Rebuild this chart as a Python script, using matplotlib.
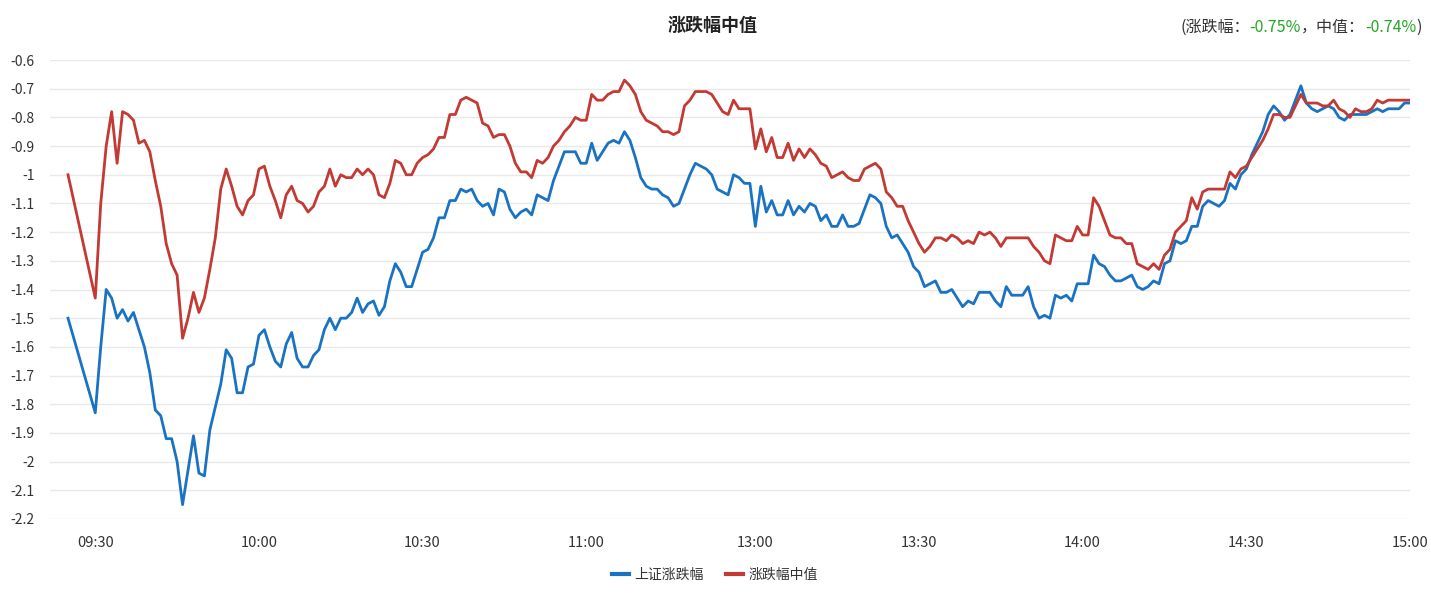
import numpy as np
import matplotlib
matplotlib.use('Agg')
import matplotlib.pyplot as plt
from matplotlib.lines import Line2D

plt.rcParams['font.family'] = ['Noto Sans CJK SC', 'DejaVu Sans']

# minute categories: 09:25-11:30 and 13:00-15:00 (lunch break squeezed out)
times = ['%02d:%02d' % divmod(m, 60) for m in range(9 * 60 + 25, 11 * 60 + 31)] + \
        ['%02d:%02d' % divmod(m, 60) for m in range(13 * 60, 15 * 60 + 1)]
tick_labels = ['09:30', '10:00', '10:30', '11:00', '13:00', '13:30', '14:00', '14:30', '15:00']

nan = np.nan
# 上证涨跌幅
sh_change = [
    -1.50, nan, nan, nan, nan, -1.83, -1.60, -1.40, -1.43, -1.50,
    -1.47, -1.51, -1.48, -1.54, -1.60, -1.69, -1.82, -1.84, -1.92, -1.92,
    -2.00, -2.15, -2.03, -1.91, -2.04, -2.05, -1.89, -1.81, -1.73, -1.61,
    -1.64, -1.76, -1.76, -1.67, -1.66, -1.56, -1.54, -1.60, -1.65, -1.67,
    -1.59, -1.55, -1.64, -1.67, -1.67, -1.63, -1.61, -1.54, -1.50, -1.54,
    -1.50, -1.50, -1.48, -1.43, -1.48, -1.45, -1.44, -1.49, -1.46, -1.37,
    -1.31, -1.34, -1.39, -1.39, -1.33, -1.27, -1.26, -1.22, -1.15, -1.15,
    -1.09, -1.09, -1.05, -1.06, -1.05, -1.09, -1.11, -1.10, -1.14, -1.05,
    -1.06, -1.12, -1.15, -1.13, -1.12, -1.14, -1.07, -1.08, -1.09, -1.02,
    -0.97, -0.92, -0.92, -0.92, -0.96, -0.96, -0.89, -0.95, -0.92, -0.89,
    -0.88, -0.89, -0.85, -0.88, -0.94, -1.01, -1.04, -1.05, -1.05, -1.07,
    -1.08, -1.11, -1.10, -1.05, -1.00, -0.96, -0.97, -0.98, -1.00, -1.05,
    -1.06, -1.07, -1.00, -1.01, -1.03, -1.03, -1.18, -1.04, -1.13, -1.09,
    -1.14, -1.14, -1.09, -1.14, -1.11, -1.13, -1.10, -1.11, -1.16, -1.14,
    -1.18, -1.18, -1.14, -1.18, -1.18, -1.17, -1.12, -1.07, -1.08, -1.10,
    -1.18, -1.22, -1.21, -1.24, -1.27, -1.32, -1.34, -1.39, -1.38, -1.37,
    -1.41, -1.41, -1.40, -1.43, -1.46, -1.44, -1.45, -1.41, -1.41, -1.41,
    -1.44, -1.46, -1.39, -1.42, -1.42, -1.42, -1.39, -1.46, -1.50, -1.49,
    -1.50, -1.42, -1.43, -1.42, -1.44, -1.38, -1.38, -1.38, -1.28, -1.31,
    -1.32, -1.35, -1.37, -1.37, -1.36, -1.35, -1.39, -1.40, -1.39, -1.37,
    -1.38, -1.31, -1.30, -1.23, -1.24, -1.23, -1.18, -1.18, -1.11, -1.09,
    -1.10, -1.11, -1.09, -1.03, -1.05, -1.00, -0.98, -0.93, -0.89, -0.85,
    -0.79, -0.76, -0.78, -0.81, -0.79, -0.74, -0.69, -0.75, -0.77, -0.78,
    -0.77, -0.76, -0.77, -0.80, -0.81, -0.79, -0.79, -0.79, -0.79, -0.78,
    -0.77, -0.78, -0.77, -0.77, -0.77, -0.75, -0.75,
]
# 涨跌幅中值
median_change = [
    -1.00, nan, nan, nan, nan, -1.43, -1.10, -0.90, -0.78, -0.96,
    -0.78, -0.79, -0.81, -0.89, -0.88, -0.92, -1.02, -1.11, -1.24, -1.31,
    -1.35, -1.57, -1.50, -1.41, -1.48, -1.43, -1.33, -1.22, -1.05, -0.98,
    -1.04, -1.11, -1.14, -1.09, -1.07, -0.98, -0.97, -1.04, -1.09, -1.15,
    -1.07, -1.04, -1.09, -1.10, -1.13, -1.11, -1.06, -1.04, -0.98, -1.04,
    -1.00, -1.01, -1.01, -0.98, -1.00, -0.98, -1.00, -1.07, -1.08, -1.03,
    -0.95, -0.96, -1.00, -1.00, -0.96, -0.94, -0.93, -0.91, -0.87, -0.87,
    -0.79, -0.79, -0.74, -0.73, -0.74, -0.75, -0.82, -0.83, -0.87, -0.86,
    -0.86, -0.90, -0.96, -0.99, -0.99, -1.01, -0.95, -0.96, -0.94, -0.90,
    -0.88, -0.85, -0.83, -0.80, -0.81, -0.81, -0.72, -0.74, -0.74, -0.72,
    -0.71, -0.71, -0.67, -0.69, -0.72, -0.78, -0.81, -0.82, -0.83, -0.85,
    -0.85, -0.86, -0.85, -0.76, -0.74, -0.71, -0.71, -0.71, -0.72, -0.75,
    -0.78, -0.79, -0.74, -0.77, -0.77, -0.77, -0.91, -0.84, -0.92, -0.87,
    -0.94, -0.94, -0.89, -0.95, -0.91, -0.94, -0.91, -0.93, -0.96, -0.97,
    -1.01, -1.00, -0.99, -1.01, -1.02, -1.02, -0.98, -0.97, -0.96, -0.98,
    -1.06, -1.08, -1.11, -1.11, -1.16, -1.20, -1.24, -1.27, -1.25, -1.22,
    -1.22, -1.23, -1.21, -1.22, -1.24, -1.23, -1.24, -1.20, -1.21, -1.20,
    -1.22, -1.25, -1.22, -1.22, -1.22, -1.22, -1.22, -1.25, -1.27, -1.30,
    -1.31, -1.21, -1.22, -1.23, -1.23, -1.18, -1.21, -1.21, -1.08, -1.11,
    -1.16, -1.21, -1.22, -1.22, -1.24, -1.24, -1.31, -1.32, -1.33, -1.31,
    -1.33, -1.28, -1.26, -1.20, -1.18, -1.16, -1.08, -1.12, -1.06, -1.05,
    -1.05, -1.05, -1.05, -0.99, -1.01, -0.98, -0.97, -0.94, -0.91, -0.88,
    -0.84, -0.79, -0.79, -0.80, -0.80, -0.76, -0.72, -0.75, -0.75, -0.75,
    -0.76, -0.76, -0.74, -0.77, -0.78, -0.80, -0.77, -0.78, -0.78, -0.77,
    -0.74, -0.75, -0.74, -0.74, -0.74, -0.74, -0.74,
]

BLUE = '#1a73c2'
RED = '#c23a33'
GREEN = '#22a822'
TXT = '#333333'

x = np.arange(len(times))
sh = np.array(sh_change)
md = np.array(median_change)

fig = plt.figure(figsize=(14.31, 6.08), dpi=100)
ax = fig.add_axes([50 / 1431, 1 - 519 / 608, 1360 / 1431, 459 / 608])

# the pre-open gap is drawn as a straight line, like the original
m = ~np.isnan(sh)
ax.plot(x[m], sh[m], color=BLUE, lw=2.0, solid_joinstyle='round')
m = ~np.isnan(md)
ax.plot(x[m], md[m], color=RED, lw=2.0, solid_joinstyle='round')

ax.set_xlim(-3.3, len(times) - 1)
ax.set_ylim(-2.2, -0.6)
yt = np.round(np.arange(-2.2, -0.55, 0.1), 1)
ax.set_yticks(yt)
ax.set_yticklabels(['%g' % v for v in yt])
ax.set_xticks([times.index(t) for t in tick_labels])
ax.set_xticklabels(tick_labels)
ax.grid(axis='y', color='#e9e9e9', lw=1)
ax.set_axisbelow(True)
for s in ax.spines.values():
    s.set_visible(False)
ax.tick_params(axis='y', length=0, pad=11, labelsize=10, labelcolor=TXT)
ax.tick_params(axis='x', length=0, pad=12, labelsize=10.5, labelcolor=TXT)

fig.text(713 / 1431, 1 - 25 / 608, '涨跌幅中值', ha='center', va='center',
         fontsize=13, fontweight='bold', color='#222222')

# top-right summary, black and green pieces chained one after another
parts = [('(涨跌幅：', TXT), ('%.2f%%' % sh[-1], GREEN), ('，中值：', TXT),
         ('%.2f%%' % md[-1], GREEN), (')', TXT)]
prev = fig.text(1180 / 1431, 1 - 27 / 608, parts[0][0], color=parts[0][1],
                fontsize=11.5, va='center', ha='left')
for txt, col in parts[1:]:
    prev = ax.annotate(txt, xy=(1, 0), xycoords=prev, va='bottom', ha='left',
                       color=col, fontsize=11.5, annotation_clip=False)

handles = [Line2D([], [], color=BLUE, lw=3), Line2D([], [], color=RED, lw=3)]
fig.legend(handles, ['上证涨跌幅', '涨跌幅中值'], loc='center',
           bbox_to_anchor=(715 / 1431, 1 - 575 / 608), ncol=2, frameon=False,
           fontsize=10, handlelength=1.2, handletextpad=0.4, columnspacing=1.6,
           labelcolor=TXT)

fig.savefig('out.png', dpi=100)
